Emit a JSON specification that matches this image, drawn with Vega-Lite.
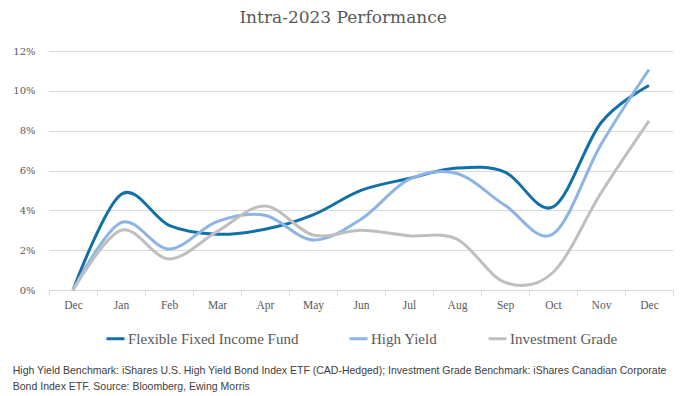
{
  "$schema": "https://vega.github.io/schema/vega-lite/v6.json",
  "autosize": {"type": "pad"},
  "padding": {"left": 12, "top": 9, "right": 19, "bottom": 4},
  "background": "white",
  "title": {
    "text": "Intra-2023 Performance",
    "font": "DejaVu Serif",
    "fontSize": 17,
    "fontWeight": "normal",
    "color": "#595959",
    "anchor": "middle",
    "offset": 19
  },
  "config": {
    "view": {"stroke": null},
    "legend": {"layout": {"bottom": {"anchor": "middle"}}}
  },
  "resolve": {"legend": {"color": "independent"}},
  "vconcat": [
    {
      "width": 624,
      "height": 239,
      "title": {
        "text": [
          "High Yield Benchmark: iShares U.S. High Yield Bond Index ETF (CAD-Hedged); Investment Grade Benchmark: iShares Canadian Corporate",
          "Bond Index ETF.  Source: Bloomberg, Ewing Morris"
        ],
        "orient": "bottom",
        "anchor": "start",
        "frame": "bounds",
        "font": "Liberation Sans",
        "fontSize": 10.5,
        "fontWeight": "normal",
        "color": "#404040",
        "lineHeight": 16,
        "offset": 19
      },
      "data": {
        "values": [
          {"month": "Dec 2022", "series": "Flexible Fixed Income Fund", "value": 0},
          {"month": "Jan", "series": "Flexible Fixed Income Fund", "value": 4.8},
          {"month": "Feb", "series": "Flexible Fixed Income Fund", "value": 3.25},
          {"month": "Mar", "series": "Flexible Fixed Income Fund", "value": 2.8},
          {"month": "Apr", "series": "Flexible Fixed Income Fund", "value": 3.05},
          {"month": "May", "series": "Flexible Fixed Income Fund", "value": 3.77},
          {"month": "Jun", "series": "Flexible Fixed Income Fund", "value": 5.0},
          {"month": "Jul", "series": "Flexible Fixed Income Fund", "value": 5.6},
          {"month": "Aug", "series": "Flexible Fixed Income Fund", "value": 6.12},
          {"month": "Sep", "series": "Flexible Fixed Income Fund", "value": 5.92},
          {"month": "Oct", "series": "Flexible Fixed Income Fund", "value": 4.17},
          {"month": "Nov", "series": "Flexible Fixed Income Fund", "value": 8.4},
          {"month": "Dec 2023", "series": "Flexible Fixed Income Fund", "value": 10.27},
          {"month": "Dec 2022", "series": "High Yield", "value": 0},
          {"month": "Jan", "series": "High Yield", "value": 3.38},
          {"month": "Feb", "series": "High Yield", "value": 2.06},
          {"month": "Mar", "series": "High Yield", "value": 3.43},
          {"month": "Apr", "series": "High Yield", "value": 3.75},
          {"month": "May", "series": "High Yield", "value": 2.51},
          {"month": "Jun", "series": "High Yield", "value": 3.55},
          {"month": "Jul", "series": "High Yield", "value": 5.55},
          {"month": "Aug", "series": "High Yield", "value": 5.85},
          {"month": "Sep", "series": "High Yield", "value": 4.25},
          {"month": "Oct", "series": "High Yield", "value": 2.81},
          {"month": "Nov", "series": "High Yield", "value": 7.3},
          {"month": "Dec 2023", "series": "High Yield", "value": 11.07},
          {"month": "Dec 2022", "series": "Investment Grade", "value": 0},
          {"month": "Jan", "series": "Investment Grade", "value": 3.0},
          {"month": "Feb", "series": "Investment Grade", "value": 1.56},
          {"month": "Mar", "series": "Investment Grade", "value": 2.93},
          {"month": "Apr", "series": "Investment Grade", "value": 4.22},
          {"month": "May", "series": "Investment Grade", "value": 2.76},
          {"month": "Jun", "series": "Investment Grade", "value": 3.0},
          {"month": "Jul", "series": "Investment Grade", "value": 2.72},
          {"month": "Aug", "series": "Investment Grade", "value": 2.55},
          {"month": "Sep", "series": "Investment Grade", "value": 0.38},
          {"month": "Oct", "series": "Investment Grade", "value": 0.88},
          {"month": "Nov", "series": "Investment Grade", "value": 4.87},
          {"month": "Dec 2023", "series": "Investment Grade", "value": 8.49}
        ]
      },
      "mark": {"type": "line", "interpolate": "cardinal", "strokeWidth": 3},
      "encoding": {
        "x": {
          "field": "month",
          "type": "ordinal",
          "sort": ["Dec 2022", "Jan", "Feb", "Mar", "Apr", "May", "Jun", "Jul", "Aug", "Sep", "Oct", "Nov", "Dec 2023"],
          "scale": {"type": "band", "paddingInner": 0, "paddingOuter": 0},
          "axis": {
            "title": null,
            "labelAngle": 0,
            "labelExpr": "isString(datum.value) ? substring(datum.value, 0, 3) : ''",
            "labelFont": "Liberation Serif",
            "labelFontSize": 11.5,
            "labelColor": "#595959",
            "labelPadding": 4,
            "domainColor": "#D9D9D9",
            "tickColor": "#D9D9D9",
            "tickSize": 5,
            "tickBand": "extent",
            "grid": false
          }
        },
        "y": {
          "field": "value",
          "type": "quantitative",
          "scale": {"domain": [0, 12], "nice": false},
          "axis": {
            "title": null,
            "values": [0, 2, 4, 6, 8, 10, 12],
            "labelExpr": "datum.value + '%'",
            "labelFont": "DejaVu Serif",
            "labelFontSize": 10,
            "labelColor": "#595959",
            "labelPadding": 14,
            "domain": false,
            "ticks": false,
            "gridColor": "#D9D9D9",
            "gridWidth": 1
          }
        },
        "color": {
          "field": "series",
          "type": "nominal",
          "sort": ["Flexible Fixed Income Fund", "High Yield", "Investment Grade"],
          "scale": {
            "domain": ["Flexible Fixed Income Fund", "High Yield", "Investment Grade"],
            "range": ["#1270A8", "#8DB4E6", "#BFBFBF"]
          },
          "legend": {
            "title": null,
            "orient": "bottom",
            "direction": "horizontal",
            "symbolType": "stroke",
            "symbolSize": 324,
            "symbolStrokeWidth": 3,
            "labelFont": "Liberation Serif",
            "labelFontSize": 15,
            "labelColor": "#595959",
            "labelOffset": 2,
            "labelLimit": 300,
            "columnPadding": 44,
            "offset": 17
          }
        }
      }
    }
  ]
}
